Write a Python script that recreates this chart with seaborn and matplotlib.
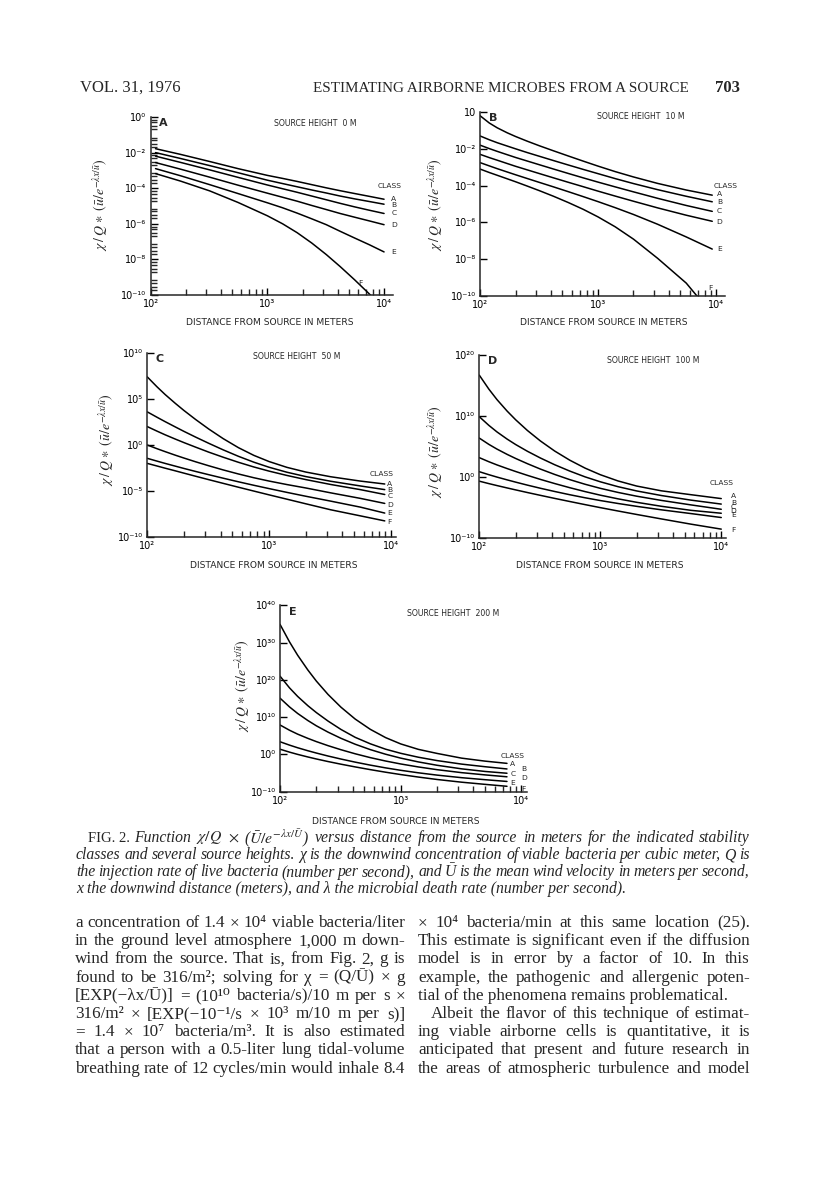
import numpy as np
import pandas as pd
import matplotlib
matplotlib.use("Agg")
import matplotlib.pyplot as plt
import seaborn as sns
from matplotlib.ticker import FixedLocator, NullFormatter

# ---- values ----
# distances in meters, concentrations as log10 of chi/Q * (u/e^-lx/u)
classes = ["A", "B", "C", "D", "E", "F"]

dist_0m = [110, 180, 320, 560, 1000, 1350, 1800, 2400, 3200, 4200, 5600, 7500, 10000]
logc_0m = {
    "A": [-1.78, -2.10, -2.50, -2.90, -3.28, -3.45, -3.62, -3.80, -3.98, -4.14, -4.30, -4.46, -4.62],
    "B": [-2.00, -2.33, -2.73, -3.13, -3.55, -3.74, -3.92, -4.10, -4.27, -4.44, -4.60, -4.75, -4.90],
    "C": [-2.20, -2.55, -2.97, -3.39, -3.82, -4.03, -4.23, -4.44, -4.65, -4.85, -5.05, -5.24, -5.42],
    "D": [-2.56, -2.93, -3.38, -3.83, -4.28, -4.51, -4.73, -4.97, -5.20, -5.42, -5.63, -5.84, -6.05],
    "E": [-2.90, -3.30, -3.80, -4.30, -4.82, -5.10, -5.40, -5.72, -6.05, -6.42, -6.80, -7.18, -7.58],
    "F": [-3.18, -3.60, -4.15, -4.80, -5.55, -6.00, -6.50, -7.08, -7.73, -8.40, -9.15, -9.95, -10.8],
}

dist_10m = [100, 120, 140, 170, 200, 250, 320, 420, 560, 750, 1000, 1400, 2000, 3200, 5600, 9300]
logc_10m = {
    "A": [-0.20, -0.60, -0.86, -1.13, -1.33, -1.58, -1.84, -2.11, -2.39, -2.67, -2.94, -3.24, -3.53, -3.88, -4.24, -4.52],
    "B": [-1.30, -1.51, -1.67, -1.85, -2.00, -2.20, -2.41, -2.64, -2.88, -3.12, -3.35, -3.62, -3.89, -4.22, -4.58, -4.88],
    "C": [-1.80, -1.99, -2.14, -2.32, -2.47, -2.66, -2.87, -3.10, -3.34, -3.58, -3.81, -4.07, -4.34, -4.69, -5.08, -5.40],
    "D": [-2.30, -2.48, -2.62, -2.80, -2.95, -3.14, -3.35, -3.58, -3.82, -4.06, -4.30, -4.57, -4.85, -5.21, -5.61, -5.94],
    "E": [-2.75, -2.93, -3.08, -3.26, -3.41, -3.61, -3.83, -4.07, -4.33, -4.60, -4.87, -5.20, -5.57, -6.10, -6.79, -7.45],
    "F": [-3.10, -3.29, -3.44, -3.63, -3.79, -4.02, -4.28, -4.58, -4.92, -5.29, -5.70, -6.24, -6.91, -7.95, -9.30, -11.0],
}

dist_50m = [100, 120, 140, 170, 200, 250, 320, 420, 560, 750, 1000, 1400, 2000, 3200, 5600, 8900]
logc_50m = {
    "A": [7.40, 6.33, 5.49, 4.52, 3.75, 2.76, 1.73, 0.69, -0.29, -1.13, -1.80, -2.43, -2.94, -3.45, -3.92, -4.24],
    "B": [3.60, 3.02, 2.54, 1.96, 1.48, 0.85, 0.18, -0.53, -1.23, -1.87, -2.42, -2.96, -3.43, -3.94, -4.45, -4.85],
    "C": [2.00, 1.51, 1.11, 0.64, 0.26, -0.24, -0.78, -1.33, -1.88, -2.39, -2.84, -3.31, -3.76, -4.29, -4.85, -5.38],
    "D": [0.00, -0.40, -0.72, -1.11, -1.42, -1.83, -2.26, -2.71, -3.15, -3.56, -3.92, -4.30, -4.67, -5.20, -5.80, -6.35],
    "E": [-1.45, -1.75, -2.00, -2.30, -2.55, -2.88, -3.23, -3.61, -4.00, -4.38, -4.74, -5.15, -5.57, -6.10, -6.75, -7.40],
    "F": [-2.00, -2.28, -2.52, -2.81, -3.06, -3.40, -3.77, -4.17, -4.59, -5.01, -5.42, -5.89, -6.39, -7.04, -7.70, -8.25],
}

dist_100m = [100, 120, 140, 170, 200, 250, 320, 420, 560, 750, 1000, 1400, 2000, 3200, 5600, 10000]
logc_100m = {
    "A": [16.7, 14.41, 12.70, 10.81, 9.39, 7.64, 5.93, 4.28, 2.78, 1.48, 0.41, -0.61, -1.45, -2.23, -2.86, -3.50],
    "B": [9.90, 8.48, 7.41, 6.23, 5.34, 4.24, 3.14, 2.04, 1.00, 0.05, -0.75, -1.55, -2.25, -3.00, -3.75, -4.40],
    "C": [6.40, 5.37, 4.60, 3.73, 3.06, 2.21, 1.33, 0.45, -0.40, -1.16, -1.82, -2.49, -3.11, -3.80, -4.53, -5.25],
    "D": [3.20, 2.53, 2.01, 1.41, 0.93, 0.30, -0.36, -1.04, -1.72, -2.36, -2.94, -3.54, -4.11, -4.76, -5.42, -5.90],
    "E": [0.90, 0.41, 0.02, -0.44, -0.81, -1.30, -1.81, -2.34, -2.87, -3.37, -3.82, -4.30, -4.77, -5.34, -5.95, -6.60],
    "F": [-0.65, -1.05, -1.37, -1.76, -2.08, -2.51, -2.97, -3.47, -3.98, -4.49, -4.98, -5.53, -6.10, -6.83, -7.68, -8.50],
}

dist_200m = [100, 120, 140, 170, 200, 250, 320, 420, 560, 750, 1000, 1400, 2000, 3200, 5000, 7600]
logc_200m = {
    "A": [34.9, 30.16, 26.61, 22.66, 19.68, 16.09, 12.67, 9.48, 6.73, 4.51, 2.82, 1.36, 0.27, -1.00, -1.80, -2.40],
    "B": [21.0, 17.84, 15.56, 13.08, 11.23, 8.95, 6.70, 4.58, 2.85, 1.40, 0.30, -0.75, -1.65, -2.60, -3.30, -3.90],
    "C": [15.1, 12.73, 10.99, 9.10, 7.68, 5.98, 4.32, 2.73, 1.29, 0.05, -0.99, -2.01, -2.91, -3.87, -4.57, -5.05],
    "D": [7.90, 6.48, 5.44, 4.31, 3.44, 2.35, 1.26, 0.17, -0.86, -1.77, -2.56, -3.36, -4.09, -4.89, -5.49, -6.00],
    "E": [3.40, 2.49, 1.79, 0.99, 0.37, -0.43, -1.24, -2.07, -2.87, -3.61, -4.26, -4.93, -5.55, -6.24, -6.78, -7.25],
    "F": [1.40, 0.61, 0.01, -0.68, -1.22, -1.91, -2.62, -3.35, -4.08, -4.77, -5.40, -6.07, -6.72, -7.45, -8.03, -8.55],
}

heights = ["0", "10", "50", "100", "200"]

# ---- styling ----
sns.set_theme(style="ticks")
plt.rcParams["font.family"] = ["DejaVu Sans"]
plt.rcParams["mathtext.fontset"] = "stix"
plt.rcParams["axes.linewidth"] = 1.1

W, H = 816, 1197
SUP = str.maketrans("-0123456789", "⁻⁰¹²³⁴⁵⁶⁷⁸⁹")
SERIF = ["Liberation Serif", "DejaVu Serif"]


def pow10(n):
    return "10" + str(n).translate(SUP)


def fx(px):
    return px / W


def fy(py):
    return 1 - py / H


# panel geometry in page pixels: left, top, right, bottom, log x max, y exponents
panels = [
    dict(letter="A", dist=dist_0m, logc=logc_0m, rect=(150.7, 117, 393.4, 295), xmax=4.08,
         ylim=(-10, 0), yt=[0, -2, -4, -6, -8, -10], ylab_x=101, ylab_y=205,
         xlab=(270, 323), src=(0.68, 0.965), cls_xy=(4.05, -3.9),
         tags={"A": (4.085, -4.62), "B": (4.085, -4.96), "C": (4.085, -5.42),
               "D": (4.085, -6.05), "E": (4.085, -7.58), "F": (3.80, -9.35)}),
    dict(letter="B", dist=dist_10m, logc=logc_10m, rect=(480, 112, 725.4, 296), xmax=4.08,
         ylim=(-10, 0), yt=[0, -2, -4, -6, -8, -10], ylab_x=436, ylab_y=205,
         xlab=(604, 323), src=(0.657, 0.975), cls_xy=(4.08, -4.02),
         tags={"A": (4.03, -4.47), "B": (4.03, -4.9), "C": (4.03, -5.38),
               "D": (4.03, -6.0), "E": (4.03, -7.46), "F": (3.95, -9.58)}),
    dict(letter="C", dist=dist_50m, logc=logc_50m, rect=(147.3, 353, 395.8, 537), xmax=4.04,
         ylim=(-10, 10), yt=[10, 5, 0, -5, -10], ylab_x=107, ylab_y=440,
         xlab=(274, 565), src=(0.60, 0.98), cls_xy=(3.92, -3.15),
         tags={"A": (3.99, -4.28), "B": (3.99, -4.9), "C": (3.99, -5.54),
               "D": (3.99, -6.52), "E": (3.99, -7.43), "F": (3.99, -8.33)}),
    dict(letter="D", dist=dist_100m, logc=logc_100m, rect=(479.3, 355, 726.1, 538.3), xmax=4.04,
         ylim=(-10, 20), yt=[20, 10, 0, -10], ylab_x=436, ylab_y=452,
         xlab=(600, 565), src=(0.705, 0.97), cls_xy=(4.0, -0.93),
         tags={"A": (4.1, -3.1), "B": (4.1, -4.2), "C": (4.1, -4.87),
               "D": (4.1, -5.52), "E": (4.1, -6.23), "F": (4.1, -8.7)}),
    dict(letter="E", dist=dist_200m, logc=logc_200m, rect=(280, 605.3, 527.4, 791.7), xmax=4.05,
         ylim=(-10, 40), yt=[40, 30, 20, 10, 0, -10], ylab_x=243, ylab_y=686,
         xlab=(396, 822), src=(0.70, 0.957), cls_xy=(3.93, -0.3),
         tags={"A": (3.93, -2.5), "B": (4.02, -3.9), "C": (3.93, -5.2),
               "D": (4.02, -6.4), "E": (3.93, -7.6), "F": (4.02, -9.3)}),
]

fig = plt.figure(figsize=(W / 100, H / 100), dpi=100)
fig.patch.set_facecolor("white")

ylabel = r"$\chi\,/\,Q\,\ast\;\left(\bar{u}/e^{-\lambda x/\bar{u}}\right)$"

for p, h in zip(panels, heights):
    l, t, r, b = p["rect"]
    ax = fig.add_axes([fx(l), fy(b), fx(r - l), (b - t) / H])
    ax.set_xscale("log")
    ax.set_yscale("log")

    rows = []
    for c in classes:
        for d, v in zip(p["dist"], p["logc"][c]):
            rows.append((d, 10.0 ** v, c))
    df = pd.DataFrame(rows, columns=["dist", "conc", "cls"])
    sns.lineplot(data=df, x="dist", y="conc", units="cls", estimator=None,
                 color="black", lw=1.1, sort=False, legend=False, ax=ax)

    ax.set_xlim(100, 10 ** p["xmax"])
    ax.set_ylim(10.0 ** p["ylim"][0], 10.0 ** p["ylim"][1])
    ax.set_xlabel("")
    ax.set_ylabel("")
    sns.despine(ax=ax)
    ax.set_facecolor("none")

    # ticks
    ax.xaxis.set_major_locator(FixedLocator([1e2, 1e3, 1e4]))
    ax.set_xticklabels([pow10(2), pow10(3), pow10(4)])
    ax.xaxis.set_minor_locator(FixedLocator([m * 10.0 ** e for e in (2, 3) for m in range(2, 10)]))
    ax.xaxis.set_minor_formatter(NullFormatter())
    ax.yaxis.set_major_locator(FixedLocator([10.0 ** e for e in p["yt"]]))
    ylabs = [pow10(e) for e in p["yt"]]
    if p["letter"] == "B":
        ylabs[0] = "10"
    ax.set_yticklabels(ylabs)
    if p["letter"] == "A":
        ax.yaxis.set_minor_locator(FixedLocator([m * 10.0 ** e for e in range(-10, 0) for m in (2, 3, 5, 7)]))
    else:
        ax.yaxis.set_minor_locator(FixedLocator([]))
    ax.yaxis.set_minor_formatter(NullFormatter())
    ax.tick_params(which="major", direction="in", length=5, width=1.0, labelsize=7, pad=3,
                   colors="black")
    ax.tick_params(which="minor", direction="in", length=4, width=1.0)

    # annotations
    ax.text(0.035, 0.965, p["letter"], transform=ax.transAxes, fontsize=8,
            fontweight="bold", va="center", ha="left")
    ax.text(p["src"][0], p["src"][1], "SOURCE HEIGHT  %s M" % h, transform=ax.transAxes,
            fontsize=5.6, va="center", ha="center")
    ax.text(10 ** p["cls_xy"][0], 10.0 ** p["cls_xy"][1], "CLASS", fontsize=5.4,
            ha="center", va="center")
    for c, (lx, ly) in p["tags"].items():
        ax.text(10 ** lx, 10.0 ** ly, c, fontsize=5.4, ha="center", va="center")

    fig.text(fx(p["xlab"][0]), fy(p["xlab"][1]), "DISTANCE FROM SOURCE IN METERS",
             fontsize=6.6, ha="center", va="center")
    fig.text(fx(p["ylab_x"]), fy(p["ylab_y"]), ylabel, fontsize=10, rotation=90,
             ha="center", va="center")

renderer = fig.canvas.get_renderer()


def justify(x0, x1, y, line, **kw):
    # spread the words of one line across the column, like the typeset page
    words = line.split(" ")
    objs = [fig.text(0, fy(y), w, va="center", ha="left", **kw) for w in words]
    widths = [o.get_window_extent(renderer).width for o in objs]
    gap = (x1 - x0 - sum(widths)) / max(len(words) - 1, 1)
    gap = max(gap, 2.5)
    x = x0
    for o, w in zip(objs, widths):
        o.set_x(fx(x))
        x += w + gap


# ---- page header ----
fig.text(fx(80), fy(88), "VOL. 31, 1976", family=SERIF, fontsize=12, va="center", ha="left")
fig.text(fx(501), fy(88), "ESTIMATING AIRBORNE MICROBES FROM A SOURCE", family=SERIF,
         fontsize=10.9, va="center", ha="center")
fig.text(fx(740), fy(88), "703", family=SERIF, fontsize=12, fontweight="bold",
         va="center", ha="right")

# ---- caption ----
cap_kw = dict(family=SERIF, style="italic", fontsize=11.3)
fig.text(fx(88), fy(838), "FIG. 2.", family=SERIF, fontsize=10.5, va="center", ha="left")
justify(134, 750, 838,
        r"Function $\chi/Q$ $\times$ ($\bar{U}/e^{-\lambda{}x/\bar{U}}$) versus distance from the source in meters for the indicated stability",
        **cap_kw)
caption = [
    "classes and several source heights. χ is the downwind concentration of viable bacteria per cubic meter, Q is",
    "the injection rate of live bacteria (number per second), and Ū is the mean wind velocity in meters per second,",
]
for i, line in enumerate(caption):
    justify(76, 750, 855 + 17 * i, line, **cap_kw)
fig.text(fx(76), fy(889), "x the downwind distance (meters), and λ the microbial death rate (number per second).",
         va="center", ha="left", **cap_kw)

# ---- body text ----
left_col = [
    "a concentration of 1.4 × 10⁴ viable bacteria/liter",
    "in the ground level atmosphere 1,000 m down-",
    "wind from the source. That is, from Fig. 2, g is",
    "found to be 316/m²; solving for χ = (Q/Ū) × g",
    "[EXP(−λx/Ū)] = (10¹⁰ bacteria/s)/10 m per s ×",
    "316/m² × [EXP(−10⁻¹/s × 10³ m/10 m per s)]",
    "= 1.4 × 10⁷ bacteria/m³. It is also estimated",
    "that a person with a 0.5-liter lung tidal-volume",
    "breathing rate of 12 cycles/min would inhale 8.4",
]
right_col = [
    "× 10⁴ bacteria/min at this same location (25).",
    "This estimate is significant even if the diffusion",
    "model is in error by a factor of 10. In this",
    "example, the pathogenic and allergenic poten-",
    "tial of the phenomena remains problematical.",
    "Albeit the flavor of this technique of estimat-",
    "ing viable airborne cells is quantitative, it is",
    "anticipated that present and future research in",
    "the areas of atmospheric turbulence and model",
]
body_kw = dict(family=SERIF, fontsize=12.3)
for i, line in enumerate(left_col):
    justify(75, 405, 923 + 18.2 * i, line, **body_kw)
for i, line in enumerate(right_col):
    y = 923 + 18.2 * i
    if line.endswith("problematical."):
        fig.text(fx(418), fy(y), line, va="center", ha="left", **body_kw)
    elif line.startswith("Albeit"):
        justify(431, 750, y, line, **body_kw)
    else:
        justify(418, 750, y, line, **body_kw)

fig.savefig("out.png", dpi=100, facecolor="white")
